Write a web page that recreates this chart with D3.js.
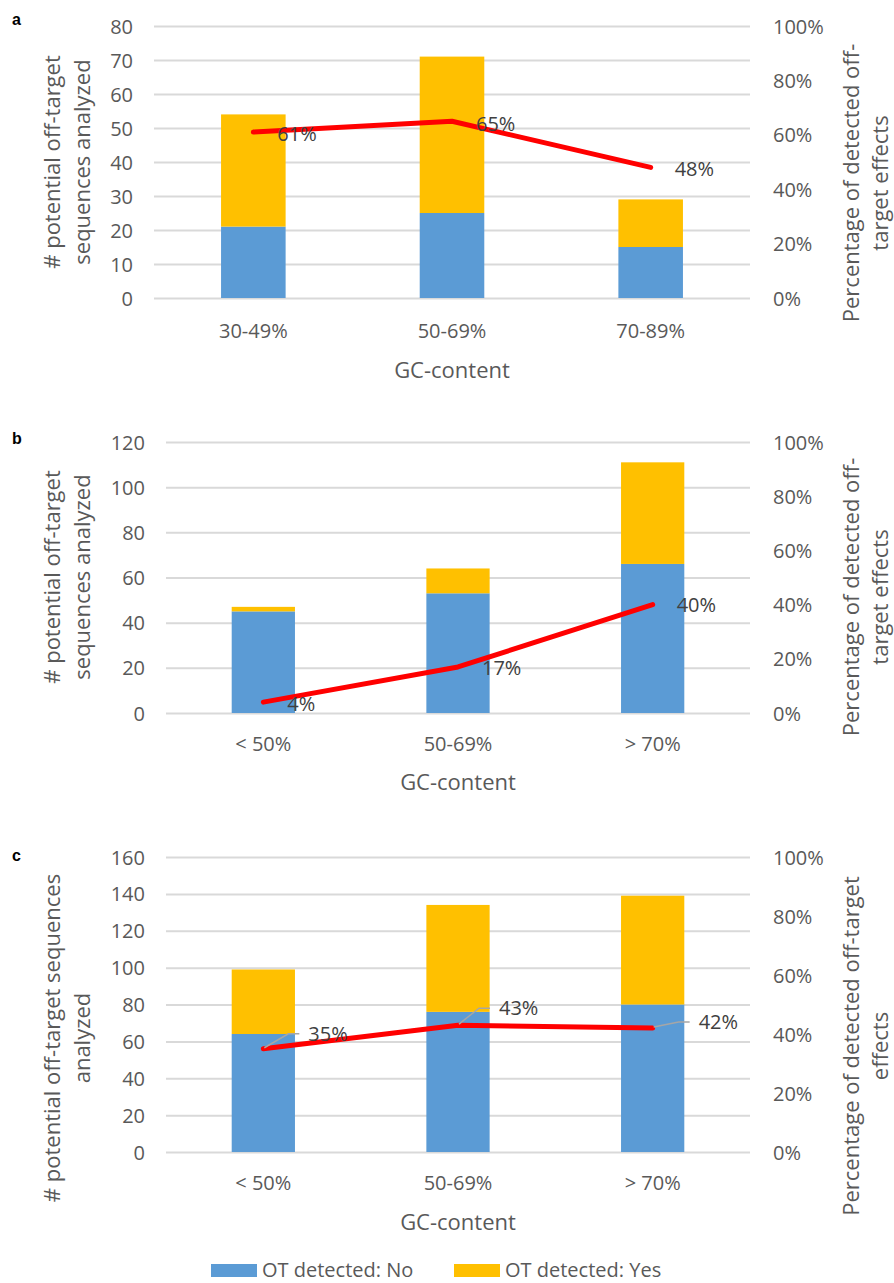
<!DOCTYPE html>
<html>
<head>
<meta charset="utf-8">
<script src="https://cdn.jsdelivr.net/npm/d3@7"></script>
<style>
  html, body { margin: 0; padding: 0; background: #fff; }
  svg { display: block; font-family: "Open Sans", "Noto Sans", sans-serif; }
</style>
</head>
<body>
<svg id="chart" width="894" height="1283"></svg>
<script>
// ---- data ----
const categoriesA = ["30-49%", "50-69%", "70-89%"];
const notDetectedA = [21, 25, 15];
const detectedA = [33, 46, 14];
const percentA = [61, 65, 48];

const categoriesB = ["< 50%", "50-69%", "> 70%"];
const notDetectedB = [45, 53, 66];
const detectedB = [2, 11, 45];
const percentB = [4, 17, 40];

const categoriesC = ["< 50%", "50-69%", "> 70%"];
const notDetectedC = [64, 76, 80];
const detectedC = [35, 58, 59];
const percentC = [35, 43, 42];

const countMaxA = 80, countStepA = 10;
const countMaxB = 120, countStepB = 20;
const countMaxC = 160, countStepC = 20;
const percentTicks = [0, 20, 40, 60, 80, 100];

const seriesNames = ["OT detected: No", "OT detected: Yes"];
const xTitle = "GC-content";
const leftTitleAB = ["# potential off-target", "sequences analyzed"];
const leftTitleC = ["# potential off-target sequences", "analyzed"];
const rightTitleAB = ["Percentage of detected off-", "target effects"];
const rightTitleC = ["Percentage of detected off-target", "effects"];

// ---- style ----
const BLUE = "#5B9BD5", GOLD = "#FFC000", RED = "#FF0000";
const GRID = "#D9D9D9", TEXT = "#595959", LABEL = "#404040", LEADER = "#A6A6A6";

const svg = d3.select("#chart");

// panel layout
const panels = [
  { tag: "a", cats: categoriesA, no: notDetectedA, yes: detectedA, pct: percentA,
    max: countMaxA, step: countStepA, left: leftTitleAB, right: rightTitleAB,
    x0: 154, x1: 750, top: 26, bottom: 298, tagY: 19,
    leftMid: 162, rightMid: 183, catY: 331, titleY: 370,
    labelOffsets: [[24, 2], [24, 3], [24, 2]], leaders: false },
  { tag: "b", cats: categoriesB, no: notDetectedB, yes: detectedB, pct: percentB,
    max: countMaxB, step: countStepB, left: leftTitleAB, right: rightTitleAB,
    x0: 166, x1: 750, top: 442, bottom: 713, tagY: 438,
    leftMid: 577, rightMid: 597, catY: 744, titleY: 782,
    labelOffsets: [[24, 2], [24, 1], [24, 0]], leaders: false },
  { tag: "c", cats: categoriesC, no: notDetectedC, yes: detectedC, pct: percentC,
    max: countMaxC, step: countStepC, left: leftTitleC, right: rightTitleC,
    x0: 166, x1: 750, top: 857, bottom: 1152, tagY: 855,
    leftMid: 1038, rightMid: 1046, catY: 1183, titleY: 1222,
    labelOffsets: [[45, -15], [41, -17], [46, -6]], leaders: true }
];

panels.forEach(p => {
  const g = svg.append("g");

  const x = d3.scaleBand().domain(p.cats).range([p.x0, p.x1])
    .paddingInner(0.675).paddingOuter(0.3375);
  const y = d3.scaleLinear().domain([0, p.max]).range([p.bottom, p.top]);
  const yPct = d3.scaleLinear().domain([0, 100]).range([p.bottom, p.top]);
  const cx = c => x(c) + x.bandwidth() / 2;

  // gridlines + left axis
  const countTicks = d3.range(0, p.max + 1, p.step);
  const leftAxis = d3.axisLeft(y).tickValues(countTicks)
    .tickSize(-(p.x1 - p.x0)).tickPadding(21).tickFormat(d3.format("d"));
  const la = g.append("g").attr("transform", `translate(${p.x0},0)`).call(leftAxis);
  la.select(".domain").remove();
  la.selectAll(".tick line").attr("stroke", GRID).attr("stroke-width", 2);
  la.selectAll(".tick text").attr("fill", TEXT).attr("font-size", 20)
    .attr("font-family", "Open Sans, sans-serif").attr("dy", "0.35em");

  // right axis (percent)
  const rightAxis = d3.axisRight(yPct).tickValues(percentTicks)
    .tickSize(0).tickPadding(23).tickFormat(d => d + "%");
  const ra = g.append("g").attr("transform", `translate(${p.x1},0)`).call(rightAxis);
  ra.select(".domain").remove();
  ra.selectAll(".tick text").attr("fill", TEXT).attr("font-size", 20)
    .attr("font-family", "Open Sans, sans-serif").attr("dy", "0.35em");

  // stacked bars
  const rows = p.cats.map((c, i) => ({ cat: c, no: p.no[i], yes: p.yes[i] }));
  const stack = d3.stack().keys(["no", "yes"])(rows);
  const colors = [BLUE, GOLD];
  stack.forEach((layer, li) => {
    g.append("g").selectAll("rect").data(layer).join("rect")
      .attr("x", d => x(d.data.cat))
      .attr("width", x.bandwidth())
      .attr("y", d => y(d[1]))
      .attr("height", d => y(d[0]) - y(d[1]))
      .attr("fill", colors[li]);
  });

  // percent line
  const pts = p.cats.map((c, i) => [cx(c), yPct(p.pct[i])]);
  g.append("path")
    .attr("d", d3.line()(pts))
    .attr("fill", "none").attr("stroke", RED).attr("stroke-width", 5)
    .attr("stroke-linecap", "round").attr("stroke-linejoin", "round");

  // data labels
  pts.forEach((pt, i) => {
    const [dx, dy] = p.labelOffsets[i];
    const lx = pt[0] + dx, ly = pt[1] + dy;
    if (p.leaders) {
      g.append("polyline")
        .attr("points", [[pt[0] + 1, pt[1] - 1], [lx - 20, ly], [lx - 9, ly]].map(q => q.join(",")).join(" "))
        .attr("fill", "none").attr("stroke", LEADER).attr("stroke-width", 1.5);
    }
    g.append("text").attr("x", lx).attr("y", ly).attr("dy", "0.35em")
      .attr("fill", LABEL).attr("font-size", 20).text(p.pct[i] + "%");
  });

  // category labels
  g.append("g").selectAll("text").data(p.cats).join("text")
    .attr("x", d => cx(d)).attr("y", p.catY).attr("dy", "0.35em")
    .attr("text-anchor", "middle").attr("fill", TEXT).attr("font-size", 20)
    .text(d => d);

  // x title
  g.append("text").attr("x", (p.x0 + p.x1) / 2).attr("y", p.titleY).attr("dy", "0.35em")
    .attr("text-anchor", "middle").attr("fill", TEXT).attr("font-size", 22)
    .text(xTitle);

  // left title (two lines, rotated)
  p.left.forEach((line, li) => {
    g.append("text")
      .attr("transform", `translate(${52 + li * 30},${p.leftMid}) rotate(-90)`)
      .attr("dy", "0.35em").attr("text-anchor", "middle")
      .attr("fill", TEXT).attr("font-size", 22).text(line);
  });

  // right title (two lines, rotated)
  p.right.forEach((line, li) => {
    g.append("text")
      .attr("transform", `translate(${851 + li * 29},${p.rightMid}) rotate(-90)`)
      .attr("dy", "0.35em").attr("text-anchor", "middle")
      .attr("fill", TEXT).attr("font-size", 22).text(line);
  });

  // panel tag
  g.append("text").attr("x", 12).attr("y", p.tagY).attr("dy", "0.35em")
    .attr("font-family", "Liberation Sans, Arial, sans-serif")
    .attr("font-weight", "bold").attr("font-size", 16).attr("fill", "#000")
    .text(p.tag);
});

// legend
const legend = svg.append("g");
const legendItems = [
  { name: seriesNames[0], color: BLUE, sx: 211 },
  { name: seriesNames[1], color: GOLD, sx: 454 }
];
legendItems.forEach(it => {
  legend.append("rect").attr("x", it.sx).attr("y", 1264).attr("width", 46).attr("height", 13)
    .attr("fill", it.color);
  legend.append("text").attr("x", it.sx + 51).attr("y", 1270).attr("dy", "0.35em")
    .attr("fill", TEXT).attr("font-size", 20).text(it.name);
});
</script>
</body>
</html>
